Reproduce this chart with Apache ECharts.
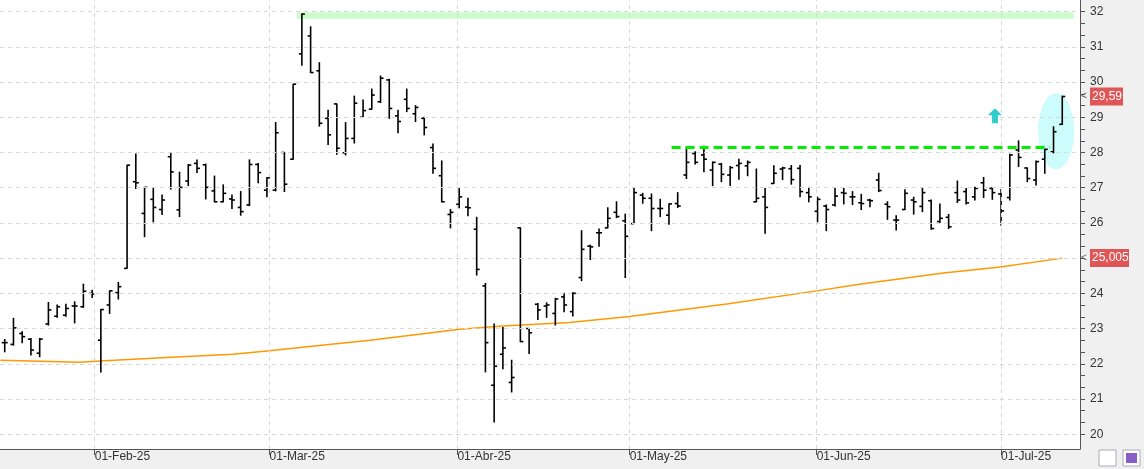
<!DOCTYPE html>
<html><head><meta charset="utf-8">
<script src="https://cdn.jsdelivr.net/npm/echarts@6/dist/echarts.min.js"></script>
<style>html,body{margin:0;padding:0;background:#fff}#c{width:1144px;height:469px}</style>
</head><body><div id="c"></div>
<script>
const open  = [22.6,22.55,22.86,22.7,22.3,23.13,23.35,23.38,23.64,23.62,24.0,22.67,23.67,24.02,24.71,27.17,26.27,26.67,26.38,27.88,26.37,27.19,27.69,27.65,26.91,26.6,26.68,26.44,26.51,27.66,26.93,26.93,28.0,27.81,30.8,31.31,30.32,28.97,29.38,27.99,28.4,29.0,29.23,29.44,30.06,29.04,29.51,29.1,28.97,28.14,27.34,26.24,26.53,26.45,25.82,24.21,21.39,22.27,21.47,25.86,23.0,23.69,23.64,23.43,23.9,23.48,24.45,25.34,25.72,25.86,26.3,26.06,25.98,26.79,26.7,26.41,26.22,26.55,27.36,27.97,27.93,27.5,27.67,27.36,27.63,27.62,26.6,26.74,27.12,27.53,27.54,27.55,26.86,26.33,26.48,26.51,26.86,26.74,26.57,26.65,27.22,26.53,26.08,26.38,26.65,26.47,26.63,26.04,26.16,26.86,26.89,26.74,27.14,26.98,26.82,26.72,28.07,27.56,27.22,27.81,28.02,28.8];
const high  = [22.69,23.29,22.91,22.72,22.72,23.74,23.67,23.69,23.76,24.26,24.09,23.54,24.07,24.31,27.64,27.96,27.01,26.98,26.79,28.0,27.44,27.66,27.79,27.67,27.33,27.08,26.79,26.89,27.79,27.69,27.28,28.85,28.0,29.94,31.93,31.57,30.55,29.2,29.38,28.85,29.6,29.49,29.8,30.17,30.08,29.2,29.8,29.33,29.0,28.24,27.76,26.38,26.98,26.7,26.16,24.28,23.13,23.03,22.1,25.86,23.0,23.71,23.73,23.86,24.0,24.02,25.78,25.37,25.83,26.43,26.6,26.25,26.98,26.84,26.82,26.67,26.54,26.86,28.14,28.02,28.18,27.73,27.69,27.6,27.81,27.76,27.53,26.98,27.62,27.58,27.63,27.63,27.01,26.73,26.51,26.98,26.98,26.89,26.81,26.67,27.41,26.6,26.2,26.94,26.73,26.98,26.65,26.54,26.24,27.19,26.98,27.01,27.29,27.01,26.95,27.95,28.33,27.56,27.76,28.09,28.73,29.6];
const low   = [22.34,22.53,22.6,22.25,22.2,23.1,23.32,23.35,23.16,23.6,23.88,21.77,23.43,23.84,24.71,26.98,25.61,26.03,26.24,26.96,26.18,27.06,27.43,26.68,26.6,26.6,26.41,26.22,26.49,27.14,26.74,26.91,26.89,27.81,30.48,30.27,28.75,28.23,27.95,27.93,28.27,29.0,29.23,29.42,28.97,28.56,29.16,28.88,28.5,27.41,26.6,25.86,26.43,26.2,24.52,21.77,20.35,21.86,21.2,22.63,22.29,23.26,23.32,23.1,23.48,23.36,24.36,24.96,25.34,25.86,26.15,24.45,25.98,26.56,25.78,26.18,25.96,26.44,27.26,27.67,27.45,27.06,27.17,27.06,27.24,27.34,26.6,25.71,27.12,27.23,27.1,26.74,26.6,26.03,25.78,26.48,26.54,26.52,26.38,26.46,26.89,26.1,25.8,26.38,26.25,26.32,25.82,26.01,25.84,26.58,26.54,26.65,26.72,26.67,25.94,26.65,27.6,27.17,27.08,27.41,27.99,28.8];
const close = [22.6,23.02,22.77,22.39,22.7,23.53,23.62,23.57,23.64,24.06,23.98,23.54,24.07,24.19,27.64,27.14,27.01,26.44,26.65,27.45,27.01,27.64,27.55,27.01,26.6,26.84,26.65,26.32,27.66,27.43,27.28,28.56,27.1,29.94,31.93,30.27,28.83,28.5,28.12,28.4,29.4,29.19,29.63,30.11,29.25,28.88,29.25,29.28,28.71,27.55,26.6,26.3,26.74,26.43,24.68,22.6,21.93,22.45,21.61,22.63,22.88,23.53,23.67,23.84,23.67,24.0,25.25,25.32,25.72,26.13,26.18,25.62,26.86,26.7,26.41,26.41,26.54,26.48,27.72,27.72,27.81,27.72,27.38,27.57,27.69,27.72,26.7,26.44,27.41,27.56,27.23,26.89,26.74,26.67,26.38,26.76,26.84,26.74,26.55,26.63,26.92,26.46,26.08,26.84,26.6,26.86,25.84,26.13,25.89,26.65,26.57,26.98,26.93,26.86,26.34,27.93,27.86,27.26,27.74,28.09,28.59,29.59];
const maPoints = [[-0.5,22.1],[8.6,22.04],[10.9,22.08],[18.5,22.18],[26.1,22.27],[30.3,22.37],[33.8,22.46],[41.8,22.67],[52.1,22.98],[57,23.07],[64.6,23.17],[71.5,23.34],[82.6,23.7],[92.9,24.07],[97.8,24.26],[107.4,24.58],[113.9,24.75],[121,25.0]];
const monthPos = [10.3,30.3,51.8,71.5,92.9,114.0];
const monthLabels = ['01-Feb-25','01-Mar-25','01-Abr-25','01-May-25','01-Jun-25','01-Jul-25'];
const yTicks = [20,21,22,23,24,25,26,27,28,29,30,31,32];
const lastPrice = 29.59, maLast = 25.005;
const resistance = 28.16, bandLo = 31.8, bandHi = 31.98;

const yAllTicks = [];
for (let v = 20; v < 32.3; v += 1/3) yAllTicks.push(+v.toFixed(3));
const ohlc = open.map((o,i)=>[i,o,close[i],low[i],high[i]]);
const chart = echarts.init(document.getElementById('c'));
const gridDash = {color:'#d8d8d8',type:[4,4],width:1};
chart.setOption({
  animation:false,
  grid:{left:0,right:64,top:0,bottom:20},
  xAxis:{type:'value',min:-0.54,max:123.03,z:5,
    axisLine:{onZero:false,lineStyle:{color:'#555'}},
    axisTick:{customValues:monthPos,length:6,lineStyle:{color:'#555'}},
    axisLabel:{customValues:monthPos,formatter:v=>monthLabels[monthPos.indexOf(v)]||'',align:'left',margin:2,color:'#333',fontSize:12,fontFamily:'Liberation Sans'},
    splitLine:{show:false}},
  yAxis:{type:'value',position:'right',min:19.58,max:32.33,z:5,
    axisLine:{show:true,onZero:false,lineStyle:{color:'#555'}},
    axisTick:{customValues:yAllTicks,length:5,lineStyle:{color:'#555'}},
    axisLabel:{customValues:yTicks,margin:10,color:'#333',fontSize:12,fontFamily:'Liberation Sans'},
    splitLine:{show:false}},
  series:[
    {type:'line',data:[],z:1,silent:true,
     markLine:{symbol:'none',silent:true,label:{show:false},lineStyle:gridDash,
       data:yTicks.map(v=>({yAxis:v})).concat(monthPos.map(v=>({xAxis:v})))},
     markArea:{silent:true,itemStyle:{color:'#ccfccc'},data:[[{coord:[33.4,bandLo]},{coord:[122.3,bandHi]}]]}},
    {type:'line',data:maPoints,showSymbol:false,z:3,lineStyle:{color:'#ff9900',width:1.5},
     markLine:{symbol:'none',silent:true,label:{show:false},lineStyle:{color:'#00ee00',width:3,type:[9,5]},
       data:[[{coord:[76.3,resistance]},{coord:[119.6,resistance]}]]}},
    {type:'custom',z:4,data:ohlc,encode:{x:0,y:[1,2,3,4]},
     renderItem:(params,api)=>{
       const x=api.value(0);
       const pO=api.coord([x,api.value(1)]),pC=api.coord([x,api.value(2)]),pL=api.coord([x,api.value(3)]),pH=api.coord([x,api.value(4)]);
       const st={stroke:'#000',lineWidth:1.6};
       return {type:'group',children:[
         {type:'line',shape:{x1:pH[0],y1:pH[1]-0.5,x2:pL[0],y2:pL[1]+0.5},style:st},
         {type:'line',shape:{x1:pO[0]-3,y1:pO[1],x2:pO[0],y2:pO[1]},style:st},
         {type:'line',shape:{x1:pC[0],y1:pC[1],x2:pC[0]+3,y2:pC[1]},style:st}]};
     }}
  ]
});
const p1 = chart.convertToPixel({xAxisIndex:0,yAxisIndex:0},[121,lastPrice]);
const p2 = chart.convertToPixel({xAxisIndex:0,yAxisIndex:0},[121,maLast]);
const ar = chart.convertToPixel({xAxisIndex:0,yAxisIndex:0},[113.3,29.0]);
const el = chart.convertToPixel({xAxisIndex:0,yAxisIndex:0},[120.3,28.6]);
chart.setOption({graphic:[
  {type:'rect',z:-10,shape:{x:1080,y:0,width:64,height:469},style:{fill:'#f0f0f0'}},
  {type:'rect',z:-10,shape:{x:0,y:449,width:1144,height:20},style:{fill:'#f0f0f0'}},
  {type:'ellipse',z:-5,shape:{cx:el[0],cy:el[1],rx:18,ry:38},style:{fill:'#ccfcfc'}},
  {type:'polygon',z:10,shape:{points:[[ar[0],ar[1]-9],[ar[0]+7,ar[1]-2],[ar[0]+3,ar[1]-2],[ar[0]+3,ar[1]+6],[ar[0]-3,ar[1]+6],[ar[0]-3,ar[1]-2],[ar[0]-7,ar[1]-2]]},style:{fill:'#33cccc'}},
  {type:'rect',z:10,shape:{x:1090,y:p1[1]-9,width:33,height:18},style:{fill:'#e05555'}},
  {type:'text',z:11,style:{x:1092,y:p1[1],text:'29,59',fill:'#fff',font:'12px Liberation Sans',verticalAlign:'middle'}},
  {type:'text',z:11,style:{x:1081,y:p1[1],text:'<',fill:'#555',font:'10px Liberation Sans',verticalAlign:'middle'}},
  {type:'rect',z:10,shape:{x:1090,y:p2[1]-9,width:39,height:18},style:{fill:'#e05555'}},
  {type:'text',z:11,style:{x:1092,y:p2[1],text:'25,005',fill:'#fff',font:'12px Liberation Sans',verticalAlign:'middle'}},
  {type:'text',z:11,style:{x:1081,y:p2[1],text:'<',fill:'#555',font:'10px Liberation Sans',verticalAlign:'middle'}},
  {type:'rect',z:10,shape:{x:1099,y:450,width:17,height:16},style:{fill:'#fff',stroke:'#aab'}},
  {type:'rect',z:10,shape:{x:1123,y:450,width:17,height:16},style:{fill:'#fff',stroke:'#aab'}},
  {type:'rect',z:11,shape:{x:1126,y:453,width:11,height:10},style:{fill:'#8a5cc8'}}
]});
</script></body></html>
